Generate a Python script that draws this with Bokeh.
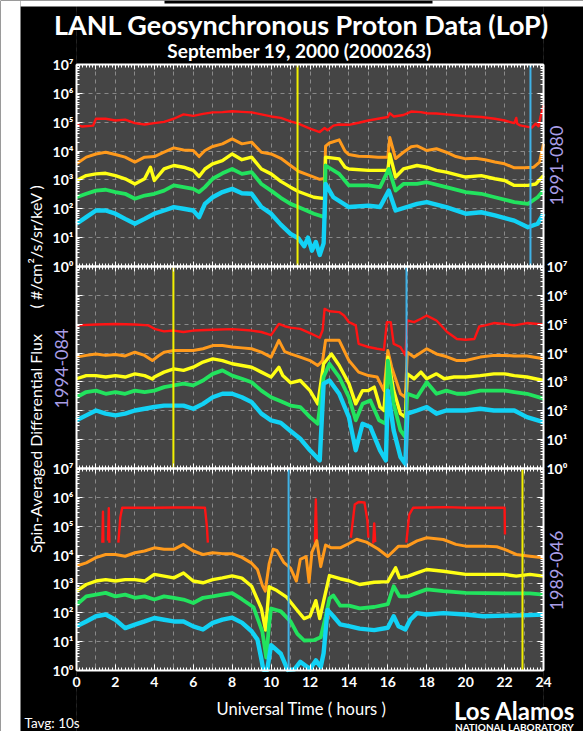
import math
import numpy as np
from bokeh.plotting import figure
from bokeh.models import (Range1d, LogScale, LogAxis, LinearAxis, FixedTicker,
                          SingleIntervalTicker, Grid, Label)
from bokeh.embed import file_html
from bokeh.resources import INLINE

NAN = float("nan")

# ---------------- data (time in UT hours, log10 of flux) ----------------
x_tick_hours = list(range(0, 25, 2))
decade_labels = ["10⁰", "10¹", "10²", "10³", "10⁴", "10⁵", "10⁶", "10⁷"]
satellite_ids = ["1991-080", "1994-084", "1989-046"]
marker_yellow_h = [11.36, 4.98, 22.92]
marker_blue_h = [23.33, 16.96, 10.90]

# ---- 1991-080 (top) ----
top_red = [(0.0,4.92),(0.3,4.85),(0.85,4.88),(1.0,5.12),(1.5,5.12),(2.0,5.06),(2.5,5.09),(3.0,4.97),
           (3.5,4.92),(4.0,4.97),(4.5,5.01),(5.0,5.12),(5.5,5.27),(6.0,5.22),(6.5,5.29),(7.0,5.34),
           (7.5,5.35),(8.0,5.38),(8.5,5.36),(9.0,5.34),(9.5,5.27),(10.0,5.20),(10.5,5.15),(11.0,5.03),
           (11.4,4.95),(12.0,4.78),(12.5,4.66),(12.75,4.80),(12.9,4.72),(13.2,4.88),(13.5,4.92),
           (14.0,4.91),(14.5,4.98),(15.0,5.06),(15.5,5.12),(16.0,5.18),(16.1,5.31),(16.3,5.20),
           (16.8,5.25),(17.2,5.37),(17.7,5.35),(18.0,5.31),(18.5,5.30),(19.0,5.27),(19.5,5.24),
           (20.0,5.21),(20.8,5.18),(21.5,5.12),(22.0,5.06),(22.5,4.97),(22.6,5.15),(22.65,4.95),
           (22.8,4.89),(23.4,4.81),(23.6,4.95),(23.75,4.86),(23.85,5.20),(24.0,5.58)]
top_orange = [(0.0,3.56),(0.5,3.79),(1.0,3.90),(1.5,3.96),(2.0,3.88),(2.5,3.79),(3.0,3.62),(3.5,3.79),
              (4.0,3.81),(4.5,3.96),(5.0,4.11),(5.5,4.04),(6.0,4.02),(6.3,3.81),(6.6,4.02),(7.0,4.16),
              (7.5,4.25),(8.0,4.42),(8.5,4.25),(9.0,4.31),(9.5,3.96),(10.0,3.90),(10.5,3.75),(11.0,3.50),
              (11.4,3.30),(12.0,3.15),(12.5,3.02),(12.75,3.05),(12.8,4.17),(13.0,4.28),(13.5,4.39),
              (13.8,4.00),(14.0,3.88),(14.5,3.82),(15.0,3.81),(15.5,3.79),(16.0,3.79),(16.1,4.47),
              (16.4,3.74),(16.8,3.96),(17.2,4.15),(17.5,4.18),(18.0,4.02),(18.5,4.08),(19.0,3.96),
              (19.5,3.81),(20.0,3.73),(20.5,3.75),(21.0,3.70),(21.5,3.62),(22.0,3.56),(22.5,3.42),
              (23.0,3.42),(23.5,3.44),(23.8,3.62),(24.0,4.25)]
top_yellow = [(0.0,2.98),(0.5,3.15),(1.0,3.21),(1.5,3.23),(2.0,3.15),(2.5,3.04),(3.0,2.86),(3.5,3.04),
              (3.8,3.44),(4.0,2.98),(4.5,3.38),(5.0,3.50),(5.5,3.44),(6.0,3.33),(6.3,3.12),(6.6,3.38),
              (7.0,3.56),(7.5,3.67),(8.0,3.90),(8.5,3.70),(9.0,3.79),(9.5,3.38),(10.0,3.21),(10.5,2.95),
              (11.0,2.75),(11.4,2.60),(12.2,2.40),(12.75,2.35),(12.8,3.79),(13.5,3.73),(13.8,3.44),
              (14.0,3.38),(15.0,3.33),(16.0,3.33),(16.1,3.90),(16.4,3.10),(16.8,3.38),(17.5,3.50),
              (18.0,3.44),(18.5,3.33),(19.0,3.27),(20.0,3.10),(20.8,3.15),(21.5,3.04),(22.0,2.98),
              (22.5,2.81),(23.2,2.81),(23.6,2.86),(24.0,3.15)]
top_green = [(0.0,2.40),(0.5,2.52),(1.0,2.63),(1.5,2.66),(2.0,2.58),(2.5,2.52),(3.0,2.35),(3.5,2.46),
             (4.0,2.52),(4.5,2.63),(5.0,2.81),(5.5,2.75),(6.0,2.69),(6.3,2.58),(6.6,2.75),(7.0,3.04),
             (7.5,3.23),(8.0,3.38),(8.5,3.21),(9.0,3.27),(9.5,2.86),(10.0,2.63),(10.5,2.38),(11.0,2.17),
             (11.4,2.06),(12.2,1.83),(12.75,1.71),(12.8,3.50),(13.5,3.21),(14.0,2.81),(15.0,2.81),
             (15.6,2.75),(16.05,3.38),(16.4,2.63),(16.8,2.86),(17.5,2.86),(18.0,2.92),(19.0,2.75),
             (20.0,2.58),(20.8,2.52),(21.5,2.40),(22.5,2.23),(23.2,2.17),(23.7,2.40),(24.0,2.63)]
top_cyan = [(0.0,1.48),(0.5,1.71),(1.0,1.94),(1.5,1.94),(2.0,1.83),(2.5,1.65),(3.0,1.48),(3.5,1.65),
            (4.0,1.83),(4.5,1.94),(5.0,2.06),(5.5,2.00),(6.0,1.94),(6.3,1.71),(6.6,2.17),(7.0,2.40),
            (7.5,2.58),(8.0,2.69),(8.5,2.54),(9.0,2.52),(9.5,2.06),(10.0,1.83),(10.5,1.45),(11.0,1.13),
            (11.4,0.98),(11.7,0.70),(11.9,1.00),(12.1,0.55),(12.3,0.85),(12.5,0.40),(12.7,0.80),
            (12.8,2.86),(13.2,2.40),(14.0,2.06),(15.0,2.11),(15.6,2.06),(16.05,2.63),(16.4,1.94),
            (17.5,2.17),(18.0,2.23),(19.0,2.06),(20.0,1.83),(20.8,1.88),(21.5,1.77),(22.5,1.59),
            (23.2,1.36),(23.7,1.48),(24.0,1.83)]

# ---- 1994-084 (middle) ----
mid_red = [(0.0,4.96),(1.0,4.99),(2.0,5.01),(3.0,4.99),(3.7,4.96),(4.0,4.84),(4.5,4.75),(5.0,4.78),
           (5.5,4.73),(6.0,4.78),(7.0,4.81),(8.0,4.83),(9.0,4.78),(9.5,4.73),(10.0,4.62),(10.4,5.01),
           (10.7,4.93),(11.0,4.88),(11.5,4.84),(12.0,4.69),(12.5,4.53),(12.65,4.80),(12.75,5.53),
           (13.0,5.45),(13.5,5.42),(13.75,5.30),(14.0,5.07),(14.35,4.96),(14.5,4.32),(15.0,4.21),
           (15.45,4.15),(15.8,4.11),(15.95,5.07),(16.15,5.07),(16.3,4.32),(16.65,4.21),(16.9,3.92),
           (17.0,5.13),(17.35,5.07),(17.7,5.19),(18.0,5.30),(18.5,5.13),(19.05,4.73),(19.55,4.49),
           (20.0,4.46),(20.45,4.49),(20.7,4.92),(21.0,4.96),(21.45,5.04),(22.0,5.01),(22.5,4.96),
           (23.15,5.04),(24.0,4.99)]
mid_orange = [(0.0,3.86),(0.5,3.92),(1.0,3.97),(1.5,3.92),(2.0,3.95),(2.5,3.90),(3.0,4.03),(3.5,3.92),
              (3.9,3.74),(4.2,3.90),(4.5,4.03),(5.0,4.09),(5.5,4.09),(6.0,4.09),(6.5,4.15),(7.0,4.26),
              (7.5,4.26),(8.0,4.21),(8.5,4.18),(9.0,4.15),(9.5,4.03),(10.0,3.86),(10.4,4.44),(10.7,4.05),
              (11.0,3.97),(11.5,3.86),(12.0,3.74),(12.4,3.57),(12.65,3.74),(12.8,4.44),(13.5,4.44),
              (13.75,4.09),(14.0,3.74),(14.5,3.34),(15.0,3.22),(15.45,3.17),(15.8,2.70),(16.0,4.09),
              (16.2,3.51),(16.65,2.59),(16.9,2.47),(17.0,4.03),(17.35,3.86),(18.0,4.15),(18.5,3.97),
              (19.0,3.88),(19.55,3.74),(20.0,3.74),(20.75,3.86),(21.45,3.92),(22.0,3.92),(22.5,3.90),
              (23.15,3.90),(24.0,3.80)]
mid_yellow = [(0.0,3.11),(0.5,3.22),(1.0,3.22),(1.5,3.17),(2.0,3.22),(2.5,3.17),(3.0,3.28),(3.5,3.22),
              (3.9,3.10),(4.0,3.17),(4.5,3.34),(5.0,3.45),(5.5,3.40),(6.0,3.51),(6.5,3.69),(7.0,3.80),
              (7.5,3.74),(8.0,3.63),(8.5,3.57),(9.0,3.51),(9.5,3.34),(10.0,3.17),(10.4,3.51),(10.6,3.22),
              (11.0,2.97),(11.5,3.05),(12.0,2.70),(12.4,2.24),(12.7,3.63),(13.1,3.97),(13.5,3.57),
              (14.0,2.94),(14.35,2.24),(14.7,2.70),(15.0,2.70),(15.3,2.82),(15.6,2.13),(15.8,2.01),
              (16.0,3.86),(16.3,2.70),(16.65,1.90),(16.9,1.78),(17.0,3.28),(17.35,3.11),(17.7,3.34),
              (18.0,3.11),(18.5,3.28),(18.9,3.11),(19.4,3.17),(20.0,3.17),(20.75,3.22),(21.45,3.28),
              (22.0,3.28),(22.5,3.22),(23.15,3.17),(24.0,3.05)]
mid_green = [(0.0,2.47),(0.5,2.65),(1.0,2.70),(1.5,2.59),(2.0,2.65),(2.5,2.59),(3.0,2.70),(3.5,2.65),
             (4.0,2.70),(4.5,2.82),(5.0,2.88),(5.5,2.94),(6.0,2.88),(6.5,3.05),(7.0,3.28),(7.5,3.40),
             (8.0,3.22),(8.5,3.11),(9.0,2.99),(9.5,2.70),(10.0,2.47),(10.5,2.33),(11.0,2.18),(11.5,2.13),
             (12.0,1.78),(12.4,1.55),(12.7,3.17),(13.0,3.63),(13.5,3.17),(14.0,2.47),(14.35,1.67),
             (14.7,2.24),(15.1,2.36),(15.55,1.67),(15.9,1.55),(16.0,3.74),(16.3,2.24),(16.65,1.32),
             (16.9,1.09),(17.0,2.59),(17.5,2.47),(18.0,2.99),(18.5,2.59),(19.0,2.70),(19.55,2.59),
             (20.0,2.59),(20.75,2.70),(21.45,2.70),(22.0,2.70),(22.5,2.65),(23.15,2.59),(24.0,2.42)]
mid_cyan = [(0.0,1.67),(0.5,1.84),(1.0,2.01),(1.5,1.90),(2.0,1.84),(2.5,1.90),(3.0,2.01),(3.5,2.07),
            (4.0,2.13),(4.5,2.18),(5.0,2.18),(5.5,2.18),(6.0,2.07),(6.5,2.24),(7.0,2.47),(7.5,2.59),
            (8.0,2.59),(8.5,2.47),(9.0,2.30),(9.5,1.90),(10.0,1.67),(10.5,1.58),(11.0,1.30),(11.5,1.03),
            (12.0,0.63),(12.5,0.28),(12.7,2.94),(13.0,3.05),(13.5,2.59),(14.0,1.78),(14.35,0.63),
            (14.7,1.55),(15.1,1.44),(15.6,0.63),(15.9,0.28),(16.0,2.70),(16.3,1.32),(16.65,0.40),
            (16.9,0.16),(17.0,1.90),(17.5,2.01),(18.0,2.13),(18.5,1.90),(19.0,2.01),(20.0,2.01),
            (20.75,2.07),(21.45,2.01),(22.5,2.01),(23.15,1.78),(24.0,1.61)]

# ---- 1989-046 (bottom) ----
bot_red = [(1.33,4.43),(1.36,5.50),(1.38,4.43),(1.5,NAN),(1.62,4.50),(1.66,5.62),(1.69,4.43),(1.9,NAN),
           (2.15,4.43),(2.25,5.30),(2.35,5.64),(3.0,5.64),(4.0,5.64),(5.0,5.65),(6.0,5.65),(6.6,5.64),
           (6.7,5.00),(6.75,4.43),(9.0,NAN),(12.25,4.43),(12.3,5.93),(12.35,4.55),(13.0,NAN),
           (14.1,4.60),(14.3,5.75),(14.5,5.84),(14.8,5.82),(14.95,5.20),(15.0,4.60),(15.1,NAN),
           (15.25,4.40),(15.3,5.10),(15.35,4.45),(16.0,NAN),(16.95,4.43),(17.1,5.40),(17.3,5.64),
           (18.0,5.65),(19.0,5.66),(20.0,5.64),(21.0,5.64),(22.0,5.64),(22.02,4.71)]
bot_orange = [(0.0,3.62),(0.5,3.73),(1.0,3.91),(1.5,4.02),(2.0,4.02),(2.5,3.96),(3.0,4.08),(3.5,4.14),
              (4.0,4.25),(4.5,4.20),(5.0,4.20),(5.5,4.37),(6.0,4.14),(6.5,4.02),(7.0,4.08),(7.5,4.05),
              (8.0,4.05),(8.5,3.92),(9.0,3.72),(9.3,3.50),(9.55,2.95),(9.7,2.75),(9.9,3.70),(10.1,4.20),
              (10.3,4.16),(10.65,3.75),(11.0,3.55),(11.3,3.10),(11.5,3.85),(11.8,3.95),(11.95,3.06),
              (12.1,4.10),(12.35,4.50),(12.55,3.60),(12.8,4.35),(13.1,4.25),(13.55,4.25),(14.0,4.40),
              (14.4,4.55),(14.9,4.45),(15.5,4.21),(16.0,3.95),(16.55,4.31),(17.0,4.31),(17.5,4.49),
              (18.0,4.60),(18.85,4.54),(19.5,4.37),(20.0,4.31),(20.9,4.31),(21.6,4.29),(22.0,4.20),
              (22.6,4.02),(23.3,3.96),(24.0,3.91)]
bot_yellow = [(0.0,2.75),(0.5,2.98),(1.0,3.10),(1.5,3.15),(2.0,3.10),(2.5,3.15),(3.0,3.15),(3.5,3.10),
              (4.0,3.33),(4.5,3.27),(5.0,3.21),(5.5,3.38),(6.0,3.10),(6.5,3.04),(7.0,3.15),(7.5,3.21),
              (8.0,3.28),(8.5,3.20),(9.0,2.92),(9.5,2.15),(9.72,1.40),(9.9,2.90),(10.3,2.77),(10.8,2.54),
              (11.35,2.08),(11.7,1.80),(12.0,1.88),(12.3,2.42),(12.5,1.80),(12.7,2.40),(13.0,3.29),
              (13.55,3.18),(14.0,3.11),(14.55,2.98),(15.3,3.06),(16.0,3.08),(16.4,3.56),(16.6,3.21),
              (17.05,3.27),(17.5,3.38),(18.0,3.50),(18.85,3.44),(20.0,3.33),(20.9,3.33),(22.0,3.33),
              (22.6,3.27),(23.3,3.33),(24.0,3.27)]
bot_green = [(0.0,2.28),(0.5,2.57),(1.0,2.63),(1.5,2.69),(2.0,2.57),(2.5,2.63),(3.0,2.52),(3.5,2.57),
             (4.0,2.46),(4.5,2.57),(5.0,2.52),(5.5,2.46),(6.0,2.34),(6.5,2.52),(7.0,2.57),(7.5,2.63),
             (8.0,2.68),(8.5,2.47),(9.1,2.19),(9.55,1.35),(9.75,0.45),(9.9,1.60),(10.0,2.15),(10.5,2.05),
             (11.0,1.70),(11.35,1.27),(11.7,1.04),(12.2,1.05),(12.55,1.15),(12.8,1.85),(13.0,2.50),
             (13.2,2.60),(13.55,2.25),(14.0,2.25),(14.55,2.15),(15.3,2.20),(16.0,2.30),(16.3,2.92),
             (16.6,2.57),(17.05,2.57),(17.5,2.69),(18.0,2.81),(18.85,2.75),(20.0,2.69),(22.0,2.67),
             (23.3,2.67),(24.0,2.63)]
bot_cyan = [(0.0,1.53),(0.5,1.70),(1.0,1.88),(1.5,1.94),(2.0,1.76),(2.5,1.47),(3.0,1.59),(3.5,1.70),
            (4.0,1.82),(4.5,1.76),(5.0,1.70),(5.5,1.70),(6.0,1.53),(6.5,1.42),(7.0,1.65),(7.5,1.76),
            (8.0,1.83),(8.5,1.66),(9.0,1.36),(9.3,1.07),(9.5,0.40),(9.6,0.02),(9.8,0.02),(10.0,0.88),
            (10.5,0.58),(10.85,0.02),(11.2,0.04),(11.5,0.30),(12.0,0.05),(12.3,0.35),(12.55,0.12),
            (12.7,0.60),(12.9,2.10),(13.2,1.88),(13.55,1.60),(14.0,1.54),(14.55,1.45),(15.3,1.40),
            (16.0,1.48),(16.3,1.88),(16.55,1.53),(16.9,1.42),(17.15,1.76),(17.5,1.99),(18.0,1.94),
            (18.85,1.99),(20.0,1.94),(20.9,1.88),(22.0,1.90),(23.3,1.92),(24.0,1.94)]

panels = [
    ("default", [top_red, top_orange, top_yellow, top_green, top_cyan]),
    ("mid", [mid_red, mid_orange, mid_yellow, mid_green, mid_cyan]),
    ("bot", [bot_red, bot_orange, bot_yellow, bot_green, bot_cyan]),
]
left_labelled = [True, False, True]
right_labelled = [False, True, False]

# ---------------- styles / layout constants ----------------
CH_COLORS = ["#ff1414", "#ff9a1c", "#ffff14", "#22e35e", "#12d2f5"]
CH_WIDTHS = [2.4, 3.0, 3.4, 3.8, 4.4]
YELLOW_MARK, BLUE_MARK = "#f2f000", "#3fb2e6"
LAVENDER = "#a99ee6"
PANEL_BG = "#454545"
GRID_C = "#b8b8b8"
FONT = "Lato"

PANEL_LO, PANEL_HI = 1.0, 1e7   # each panel spans 10^0 .. 10^7
DEC = 7
T0, T1 = 0, 24

# page pixel geometry (the canvas fills the whole page)
CX0, CX1, CY0, CY1 = 0, 583, 0, 731
FL, FR, FT, PH = 76, 543, 64, 202   # panel left/right/top and panel height


def hx(X):
    return (X - FL) / (FR - FL) * (T1 - T0) + T0


def top_log(Y):
    return DEC - (Y - FT) / (PH / DEC)


x0, x1 = hx(CX0), hx(CX1)
lt0, lt1 = top_log(CY1), top_log(CY0)

p = figure(width=CX1 - CX0, height=CY1 - CY0, x_range=Range1d(x0, x1),
           y_range=Range1d(10 ** lt0, 10 ** lt1), y_axis_type="log",
           x_axis_location=None, y_axis_location=None, title=None,
           output_backend="svg", toolbar_location=None,
           min_border=0, min_border_left=0, min_border_right=0, min_border_top=0,
           min_border_bottom=0, background_fill_color=PANEL_BG, border_fill_color="black",
           outline_line_color=None)
p.center = [r for r in p.center if not isinstance(r, Grid)]
p.extra_y_ranges = {"mid": Range1d(10 ** (lt0 + DEC), 10 ** (lt1 + DEC)),
                    "bot": Range1d(10 ** (lt0 + 2 * DEC), 10 ** (lt1 + 2 * DEC))}
p.extra_y_scales = {"mid": LogScale(), "bot": LogScale()}

# grids (masked outside the panels)
p.add_layout(Grid(dimension=0, ticker=SingleIntervalTicker(interval=1),
                  grid_line_color=GRID_C, grid_line_alpha=0.6, grid_line_dash="4 4"))
p.add_layout(Grid(dimension=1, ticker=FixedTicker(ticks=[10.0 ** k for k in range(-17, 11)]),
                  grid_line_color=GRID_C, grid_line_alpha=0.6, grid_line_dash="4 4"))

ylo, yhi = 10 ** lt0, 10 ** lt1
bottom_edge = PANEL_LO / 10 ** (2 * DEC)   # bottom panel's 10^0 in top-panel units
p.quad(left=[x0, T1, T0, T0], right=[T0, x1, T1, T1],
       bottom=[ylo, ylo, PANEL_HI, ylo], top=[yhi, yhi, yhi, bottom_edge],
       fill_color="black", line_color=None)
# page edges outside the picture's black card
p.quad(left=[x0, hx(20)], right=[hx(20), x1], bottom=[ylo, 10 ** top_log(6)],
       top=[yhi, yhi], fill_color="white", line_color=None)
p.quad(left=[hx(164)], right=[hx(432)], bottom=[10 ** top_log(3)], top=[yhi],
       fill_color="black", line_color=None)

# data lines
for rng, series in panels:
    for s, col, lw in zip(series, CH_COLORS, CH_WIDTHS):
        t = np.array([a for a, b in s], dtype=float)
        f = 10.0 ** np.array([b for a, b in s], dtype=float)
        p.line(t, f, line_color=col, line_width=lw, line_join="round", y_range_name=rng)

# event markers
for (rng, _), hy, hb in zip(panels, marker_yellow_h, marker_blue_h):
    p.segment(x0=[hy], y0=[PANEL_LO], x1=[hy], y1=[PANEL_HI], line_color=YELLOW_MARK,
              line_width=2, y_range_name=rng)
    p.segment(x0=[hb], y0=[PANEL_LO], x1=[hb], y1=[PANEL_HI], line_color=BLUE_MARK,
              line_width=2, y_range_name=rng)


def style(ax, tin=6, tout=0, mtin=3, mtout=0):
    ax.axis_line_color = "white"
    ax.axis_line_width = 2
    ax.major_tick_line_color = "white"
    ax.minor_tick_line_color = "white"
    ax.major_tick_in, ax.major_tick_out = tin, tout
    ax.minor_tick_in, ax.minor_tick_out = mtin, mtout
    ax.major_label_text_color = "white"
    ax.major_label_text_font = FONT
    ax.major_label_text_font_style = "bold"
    ax.major_label_text_font_size = "14px"
    ax.major_label_standoff = 3


dec_ticks = [10.0 ** k for k in range(0, DEC + 1)]
dec_minor = [m * 10.0 ** k for k in range(0, DEC) for m in range(2, 10)]
lab_on = {tv: decade_labels[k] for k, tv in enumerate(dec_ticks)}
lab_off = {tv: "" for tv in dec_ticks}
blank_x = {h: "" for h in range(T0, T1 + 1)}

for (rng, _), lft, rgt in zip(panels, left_labelled, right_labelled):
    for side, loc, lab in (("left", T0, lft), ("right", T1, rgt)):
        ax = LogAxis(ticker=FixedTicker(ticks=dec_ticks, minor_ticks=dec_minor),
                     y_range_name=rng, fixed_location=loc, bounds=(PANEL_LO, PANEL_HI),
                     major_label_overrides=lab_on if lab else lab_off)
        style(ax)
        p.add_layout(ax, side)
    for side, loc in (("above", PANEL_HI), ("below", PANEL_LO)):
        labelled = (rng == "bot" and side == "below")
        if labelled:
            ax = LinearAxis(ticker=FixedTicker(ticks=x_tick_hours,
                                               minor_ticks=[i / 6 for i in range(0, 145)]),
                            y_range_name=rng, fixed_location=loc, bounds=(T0, T1))
            style(ax, tin=6, mtin=3)
            ax.major_label_standoff = 6
        else:
            ax = LinearAxis(ticker=SingleIntervalTicker(interval=1, num_minor_ticks=6),
                            y_range_name=rng, fixed_location=loc, bounds=(T0, T1),
                            major_label_overrides=blank_x)
            style(ax, tin=5, mtin=3)
        p.add_layout(ax, side)


# ---------------- text annotations (positions in page pixels) ----------------
def label(text, X, Y, size, bold=False, color="white", angle=0.0, align="center",
          baseline="middle"):
    p.add_layout(Label(x=hx(X), y=10 ** top_log(Y), text=text, text_font=FONT,
                       text_font_size=size, text_font_style="bold" if bold else "normal",
                       text_color=color, angle=angle, text_align=align,
                       text_baseline=baseline))


label("LANL Geosynchronous Proton Data (LoP)", 301, 23.5, "27px", bold=True)
label("September 19, 2000 (2000263)", 299, 50, "19px", bold=True)
label("Spin-Averaged Differential Flux", 35, 443, "16px", angle=math.pi / 2)
label("( #/cm²/s/sr/keV )", 35, 246, "16px", angle=math.pi / 2)
label(satellite_ids[0], 556, 165, "18px", color=LAVENDER, angle=math.pi / 2)
label(satellite_ids[1], 61, 368, "18px", color=LAVENDER, angle=math.pi / 2)
label(satellite_ids[2], 556, 570, "18px", color=LAVENDER, angle=math.pi / 2)
label("Universal Time ( hours )", 301, 708, "16.5px")
label("Tavg: 10s", 24, 722, "13.5px", align="left")
label("Los Alamos", 514, 710, "24px", bold=True)
label("NATIONAL LABORATORY", 514, 726, "10px", bold=True)

open("out.html", "w").write(file_html(p, INLINE))
